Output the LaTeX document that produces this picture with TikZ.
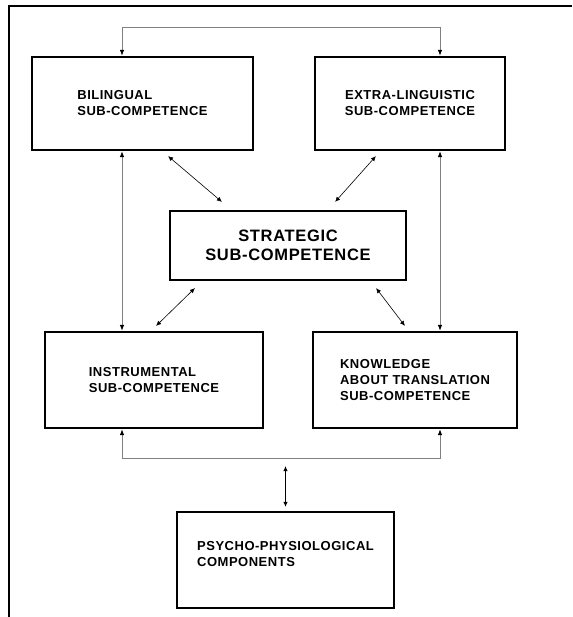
\documentclass[tikz,border=0pt]{standalone}
\usepackage{fontspec}
\setmainfont{Liberation Sans}[LetterSpace=4]
\usepackage{tikz}
\usetikzlibrary{arrows.meta,calc,positioning}
\tikzset{%
	compbox/.style  = {draw, rectangle, line width=2.2pt, inner sep=0pt, font=\bfseries\fontsize{13}{16}\selectfont},
	bigbox/.style   = {compbox, font=\bfseries\fontsize{16.5}{19.5}\selectfont},
	link/.style     = {draw=gray, line width=0.9pt, <->, >={Latex[length=6pt,width=4.5pt,color=black]}},
	diag/.style     = {black, line width=0.6pt, <->, >={Latex[length=5pt,width=4.5pt]}},
	dbl/.style      = {black, line width=1.3pt, <->, >={Latex[length=5pt,width=4.5pt]}},
}
\begin{document}
\begin{tikzpicture}[x=1pt,y=-1pt]
		\useasboundingbox (0,0) rectangle (572,617);
		\draw[line width=2pt] (9,617) -- (9,6) -- (572,6);
		
		\node[compbox,minimum width=221pt,minimum height=93pt,align=left] (bil) at (142.5,103.5) {BILINGUAL\\SUB-COMPETENCE};
		\node[compbox,minimum width=190pt,minimum height=93pt,align=center] (ext) at (410,103.5) {EXTRA-LINGUISTIC\\SUB-COMPETENCE};
		\node[bigbox,minimum width=236pt,minimum height=69pt,align=center] (strat) at (288,245.5) {STRATEGIC\\SUB-COMPETENCE};
		\node[compbox,minimum width=218pt,minimum height=96pt,align=left] (inst) at (154,380) {INSTRUMENTAL\\SUB-COMPETENCE};
		\node[compbox,minimum width=204pt,minimum height=96pt,align=left] (know) at (415,380) {KNOWLEDGE\\ABOUT TRANSLATION\\SUB-COMPETENCE};
		\node[compbox,minimum width=217pt,minimum height=96pt,align=left] (psy) at (285.5,560) {PSYCHO-PHYSIOLOGICAL\\COMPONENTS\\[-4pt]};
		
		% routing lines
		\coordinate (lx) at (122,0);
		\coordinate (rx) at (440,0);
		\coordinate (ty) at (0,27);
		\coordinate (by) at (0,458);
		\coordinate (ptop) at (0,466);
		
		\draw[link] (bil.north -| lx) -- (lx |- ty) -- (rx |- ty) -- (ext.north -| rx);
		\draw[link] (bil.south -| lx) -- (inst.north -| lx);
		\draw[link] (ext.south -| rx) -- (know.north -| rx);
		\draw[link] (inst.south -| lx) -- (lx |- by) -- (rx |- by) -- (know.south -| rx);
		\draw[dbl] ([yshift=4pt]psy.north) -- (psy.north |- ptop);
		
		% links to the strategic box
		\draw[diag] ([xshift=-86pt,yshift=-5pt]bil.south east) -- ([xshift=53pt,yshift=8pt]strat.north west);
		\draw[diag] ([xshift=62pt,yshift=-5pt]ext.south west) -- ([xshift=-72pt,yshift=8pt]strat.north east);
		\draw[diag] ([xshift=26pt,yshift=-7pt]strat.south west) -- ([xshift=-108pt,yshift=5pt]inst.north east);
		\draw[diag] ([xshift=-31pt,yshift=-7pt]strat.south east) -- ([xshift=93pt,yshift=5pt]know.north west);
\end{tikzpicture}
\end{document}
